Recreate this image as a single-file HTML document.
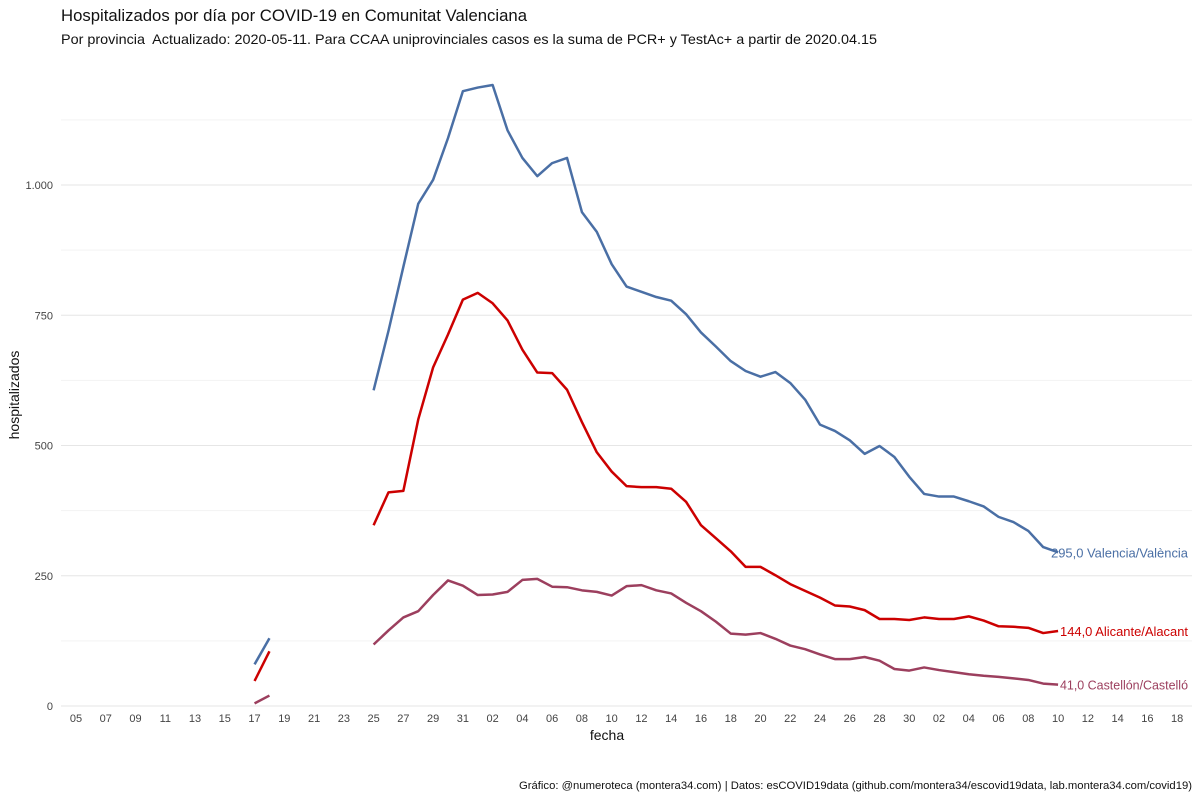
<!DOCTYPE html>
<html><head><meta charset="utf-8">
<style>
body{margin:0;background:#fff;font-family:"Liberation Sans Narrow","Liberation Sans",sans-serif;}
svg text{font-family:"Liberation Sans Narrow","Liberation Sans",sans-serif;}
</style></head><body>
<svg id="c" width="1200" height="800">
<text x="61" y="21" font-size="17" fill="#111" textLength="466" lengthAdjust="spacingAndGlyphs">Hospitalizados por día por COVID-19 en Comunitat Valenciana</text>
<text x="61" y="44" font-size="14" fill="#111" xml:space="preserve" textLength="816" lengthAdjust="spacingAndGlyphs">Por provincia  Actualizado: 2020-05-11. Para CCAA uniprovinciales casos es la suma de PCR+ y TestAc+ a partir de 2020.04.15</text>
<text x="607" y="740" font-size="14" fill="#111" text-anchor="middle">fecha</text>
<text transform="translate(19,395) rotate(-90)" font-size="14" fill="#111" text-anchor="middle">hospitalizados</text>
<text x="519" y="789" font-size="11" fill="#111" textLength="673" lengthAdjust="spacingAndGlyphs">Gráfico: @numeroteca (montera34.com) | Datos: esCOVID19data (github.com/montera34/escovid19data, lab.montera34.com/covid19)</text>
<g id="grid"></g><g id="series"></g><g id="axes"></g>
</svg>
<script>
const yTicks=[0,250,500,750,1000];
const yTickLabels=["0","250","500","750","1.000"];
const early=[80,130];
const earlyA=[48,105];
const earlyC=[5,20];
const valencia=[606,720,843,964,1010,1090,1180,1187,1192,1105,1052,1017,1042,1052,948,910,848,805,795,785,778,752,717,690,662,643,632,641,620,588,540,528,510,484,499,478,440,407,402,402,393,383,363,353,336,305,295];
const alicante=[347,410,413,550,650,713,780,793,773,740,684,640,639,607,545,487,450,422,420,420,417,392,347,322,297,267,267,251,234,221,208,193,191,184,167,167,165,170,167,167,172,164,153,152,150,140,144];
const castellon=[118,145,170,182,213,241,231,213,214,219,242,244,229,228,222,219,212,230,232,222,216,198,182,162,139,137,140,129,116,109,99,90,90,94,87,71,68,74,69,65,61,58,56,53,50,43,41];
const seriesNames=["Valencia/València","Alicante/Alacant","Castellón/Castelló"];
const colors=["#4a6fa5","#cc0000","#9c3f5e"];
const labelLen=[137,128,128];
const NS="http://www.w3.org/2000/svg";
const X0=76,DX=14.88,Y0=706,KY=0.521;
const x=d=>X0+d*DX, y=v=>Y0-v*KY;
function mk(t,a,p){const e=document.createElementNS(NS,t);for(const k in a)e.setAttribute(k,a[k]);p.appendChild(e);return e;}
const grid=document.getElementById('grid'),axes=document.getElementById('axes'),ser=document.getElementById('series');
for(let v=125;v<1200;v+=250){const l=mk('line',{x1:61,x2:1192,y1:y(v),y2:y(v),stroke:'#f3f3f3','stroke-width':1},grid);

}
yTicks.forEach((v,i)=>{const l=mk('line',{x1:61,x2:1192,y1:y(v),y2:y(v),stroke:'#e6e6e6','stroke-width':1},grid);


const t=mk('text',{x:53,y:y(v)+4,'font-size':11,fill:'#444','text-anchor':'end'},axes);t.textContent=yTickLabels[i];

});
const base=new Date(2020,2,5);
for(let d=0;d<=74;d+=2){const dt=new Date(base.getTime()+d*86400000);
const t=mk('text',{x:x(d),y:722,'font-size':11,fill:'#444','text-anchor':'middle'},axes);t.textContent=String(dt.getDate()).padStart(2,'0');

}
const all=[[early,valencia],[earlyA,alicante],[earlyC,castellon]];
all.forEach((s,i)=>{
const e=mk('polyline',{points:s[0].map((v,j)=>x(12+j)+','+y(v)).join(' '),fill:'none',stroke:colors[i],'stroke-width':2.5},ser);


const m=mk('polyline',{points:s[1].map((v,j)=>x(20+j)+','+y(v)).join(' '),fill:'none',stroke:colors[i],'stroke-width':2.5,'stroke-linejoin':'round'},ser);


const last=s[1][s[1].length-1];
const t=mk('text',{x:1188-labelLen[i],y:y(last)+5,'font-size':13,fill:colors[i],textLength:labelLen[i],lengthAdjust:'spacingAndGlyphs'},ser);
t.textContent=last.toFixed(1).replace('.',',')+' '+seriesNames[i];


});
</script>
</body></html>
